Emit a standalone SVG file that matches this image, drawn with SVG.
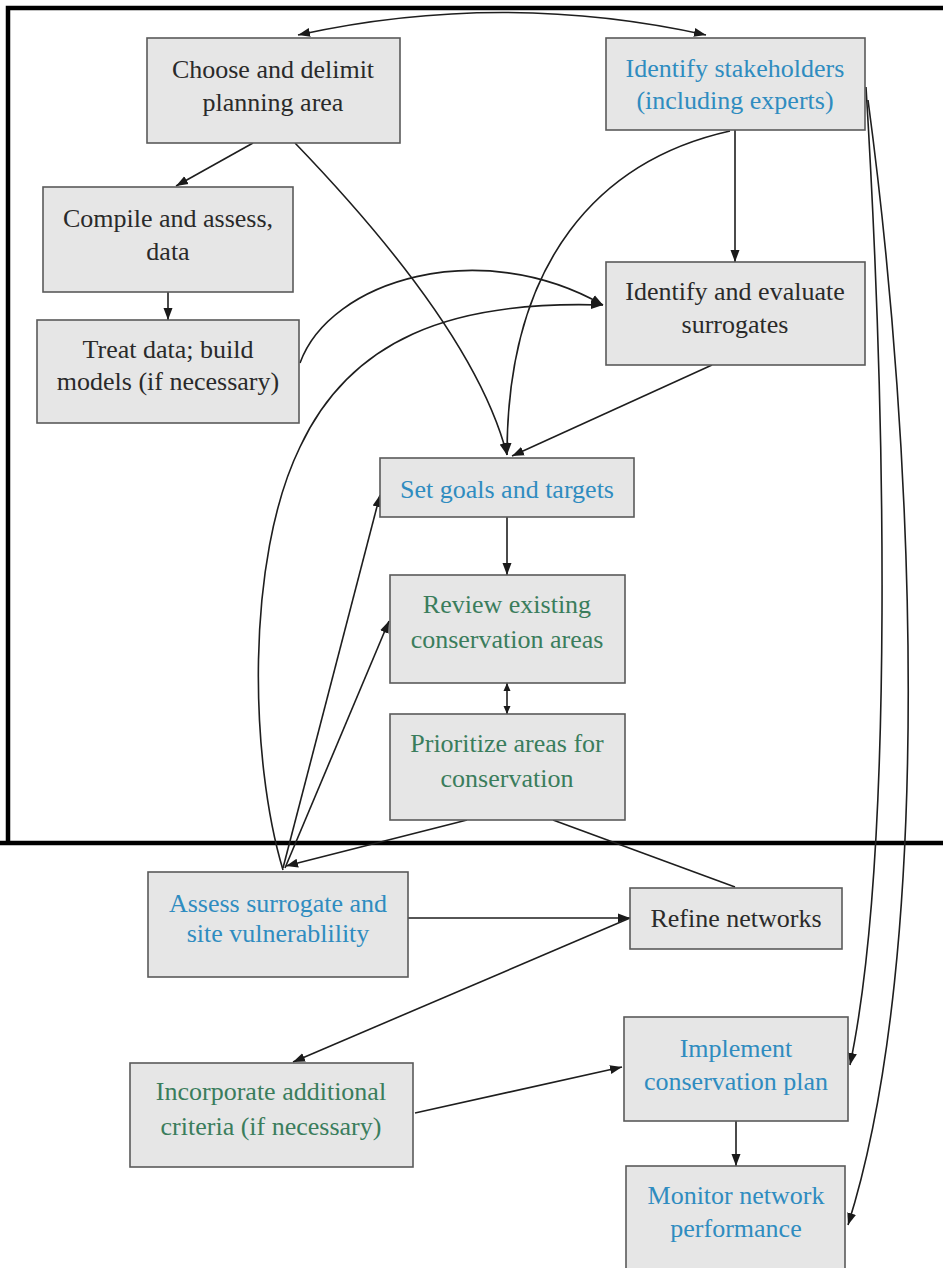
<svg xmlns="http://www.w3.org/2000/svg" width="943" height="1268" viewBox="0 0 943 1268">
<defs>
<marker id="ah" markerUnits="userSpaceOnUse" markerWidth="13" markerHeight="10" refX="12" refY="5" orient="auto-start-reverse">
<path d="M0,0.5 L12,5 L0,9.5 z" fill="#1a1a1a"/>
</marker>
<marker id="ahs" markerUnits="userSpaceOnUse" markerWidth="9" markerHeight="8" refX="8" refY="4" orient="auto-start-reverse">
<path d="M0,0.5 L8,4 L0,7.5 z" fill="#1a1a1a"/>
</marker>
<style>
.box{fill:#e6e6e6;stroke:#5a5a5a;stroke-width:1.6}
.t{font-size:26px;text-anchor:middle}
.k{fill:#2a2a2a}
.b{fill:#2f8cc0}
.g{fill:#3a7d5c}
.c{fill:none;stroke:#1e1e1e;stroke-width:1.6}
.a{marker-end:url(#ah)}
.frame{fill:none;stroke:#000;stroke-width:4.5}
</style>
</defs>
<rect width="943" height="1268" fill="#fff"/>
<g id="frame">
<path class="frame" d="M943,8 L8,8 L8,845"/>
<path class="frame" d="M0,843 L943,843"/>
</g>
<g id="connectors">
<path class="c" d="M298,35 Q503,-10 706,35" marker-start="url(#ah)" marker-end="url(#ah)"/>
<path class="c a" d="M253,143 L176,186"/>
<path class="c a" d="M295,143 Q475,330 507,455"/>
<path class="c a" d="M168,292 L168,320"/>
<path class="c a" d="M735,130 L735,262"/>
<path class="c a" d="M730,131 C600,160 507,260 507,455"/>
<path class="c a" d="M300,363 C330,280 480,235 603,305"/>
<path class="c a" d="M283,870 C250,760 245,560 300,447 C350,340 450,300 603,305"/>
<path class="c a" d="M712,365 L512,456"/>
<path class="c a" d="M507,517 L507,575"/>
<path class="c" d="M507,683 L507,714" marker-start="url(#ahs)" marker-end="url(#ahs)"/>
<path class="c a" d="M283,868 L380,495"/>
<path class="c a" d="M285,868 L389,621"/>
<path class="c a" d="M467,820 L286,866"/>
<path class="c" d="M553,820 L735,887"/>
<path class="c a" d="M408,918 L630,918"/>
<path class="c a" d="M630,918 L293,1062"/>
<path class="c a" d="M415,1113 L622,1067"/>
<path class="c a" d="M736,1121 L736,1166"/>
<path class="c a" d="M866,87 C885,400 895,850 850,1065"/>
<path class="c a" d="M868,100 C915,450 935,950 848,1225"/>
</g>
<g font-family="'Liberation Serif', 'DejaVu Serif', serif">
<g id="n-choose">
<rect class="box" x="147" y="38" width="253" height="105"/>
<text class="t k" x="273" y="78">Choose and delimit</text>
<text class="t k" x="273" y="111">planning area</text>
</g>
<g id="n-stakeholders">
<rect class="box" x="606" y="38" width="259" height="92"/>
<text class="t b" x="735" y="77">Identify stakeholders</text>
<text class="t b" x="735" y="109">(including experts)</text>
</g>
<g id="n-compile">
<rect class="box" x="43" y="187" width="250" height="105"/>
<text class="t k" x="168" y="227">Compile and assess,</text>
<text class="t k" x="168" y="260">data</text>
</g>
<g id="n-treat">
<rect class="box" x="37" y="320" width="262" height="103"/>
<text class="t k" x="168" y="358">Treat data; build</text>
<text class="t k" x="168" y="390">models (if necessary)</text>
</g>
<g id="n-surrogates">
<rect class="box" x="606" y="262" width="259" height="103"/>
<text class="t k" x="735" y="300">Identify and evaluate</text>
<text class="t k" x="735" y="333">surrogates</text>
</g>
<g id="n-goals">
<rect class="box" x="380" y="458" width="254" height="59"/>
<text class="t b" x="507" y="498">Set goals and targets</text>
</g>
<g id="n-review">
<rect class="box" x="390" y="575" width="235" height="108"/>
<text class="t g" x="507" y="613">Review existing</text>
<text class="t g" x="507" y="648">conservation areas</text>
</g>
<g id="n-prioritize">
<rect class="box" x="390" y="714" width="235" height="106"/>
<text class="t g" x="507" y="752">Prioritize areas for</text>
<text class="t g" x="507" y="787">conservation</text>
</g>
<g id="n-assess">
<rect class="box" x="148" y="872" width="260" height="105"/>
<text class="t b" x="278" y="912">Assess surrogate and</text>
<text class="t b" x="278" y="942">site vulnerablility</text>
</g>
<g id="n-refine">
<rect class="box" x="630" y="888" width="212" height="61"/>
<text class="t k" x="736" y="927">Refine networks</text>
</g>
<g id="n-incorporate">
<rect class="box" x="130" y="1063" width="283" height="104"/>
<text class="t g" x="271" y="1100">Incorporate additional</text>
<text class="t g" x="271" y="1135">criteria (if necessary)</text>
</g>
<g id="n-implement">
<rect class="box" x="624" y="1017" width="224" height="104"/>
<text class="t b" x="736" y="1057">Implement</text>
<text class="t b" x="736" y="1090">conservation plan</text>
</g>
<g id="n-monitor">
<rect class="box" x="626" y="1166" width="219" height="110"/>
<text class="t b" x="736" y="1204">Monitor network</text>
<text class="t b" x="736" y="1237">performance</text>
</g>
</g>
</svg>
